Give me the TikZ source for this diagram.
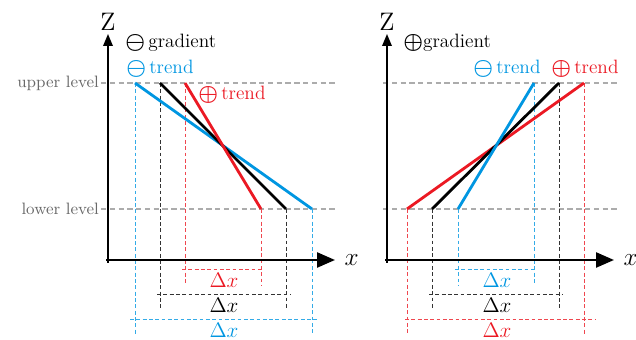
\documentclass[tikz,border=0pt]{standalone}
\usepackage{amsmath}
\usepackage{tikz}
\usetikzlibrary{arrows.meta}
\definecolor{trendblue}{RGB}{0,150,225}
\definecolor{trendred}{RGB}{235,25,35}
\definecolor{levelgray}{RGB}{105,105,105}
\newcommand{\negsign}{\raisebox{-0.5pt}{\scalebox{1.15}{$\boldsymbol{\ominus}$}}}
\newcommand{\possign}{\raisebox{-0.5pt}{\scalebox{1.15}{$\boldsymbol{\oplus}$}}}
\tikzset{
  axisline/.style={line width=1pt,-{Triangle[length=2.4mm,width=1.9mm]}},
  xaxisline/.style={line width=1.4pt,-{Triangle[length=3.6mm,width=3mm]}},
  slope/.style={line width=1.6pt},
  guide/.style={line width=0.5pt,dash pattern=on 2.2pt off 1.4pt},
  levelline/.style={line width=0.6pt,draw=levelgray!55,dash pattern=on 3pt off 2pt},
  lvl/.style={text=levelgray,anchor=east,inner sep=1pt,font=\fontsize{9.4}{11}\selectfont},
  sign/.style={anchor=west,inner sep=0pt},
  dx/.style={inner sep=1pt,font=\fontsize{12.5}{14}\selectfont},
  axlabel/.style={font=\fontsize{15}{17}\selectfont},
}
\begin{document}
\begin{tikzpicture}[x=0.02cm,y=-0.02cm,font=\fontsize{11}{13}\selectfont]
  \useasboundingbox (0,0) rectangle (636,340);
  % levels
  \node[lvl] (up) at (101,83) {upper level};
  \node[lvl] (low) at (101,209) {lower level};
  \draw[levelline] (up.east) -- (337,83) (383,83) -- (617,83);
  \draw[levelline] (low.east) -- (337,209) (383,209) -- (617,209);

  % left panel: negative gradient
  \coordinate (lb1) at (135,83);  \coordinate (lb2) at (312,209);
  \coordinate (lk1) at (160,83);  \coordinate (lk2) at (286,209);
  \coordinate (lr1) at (185,83);  \coordinate (lr2) at (261,209);
  \draw[guide,trendblue!80] (lb1) -- (135,335) (lb2) -- (312,335) (130,319) -- (317,319);
  \draw[guide,black!80] (lk1) -- (160,310) (lk2) -- (286,310) (157,294) -- (290,294);
  \draw[guide,trendred!80] (lr1) -- (185,285) (lr2) -- (261,285) (182,269) -- (264,269);
  \draw[slope,trendblue] (lb1) -- (lb2);
  \draw[slope,black] (lk1) -- (lk2);
  \draw[slope,trendred] (lr1) -- (lr2);
  \node[dx,text=trendred] (ldr) at (224,280) {$\Delta x$};
  \node[dx] (ldk) at (224,305) {$\Delta x$};
  \node[dx,text=trendblue] (ldb) at (224,330) {$\Delta x$};
  \draw[axisline] (108,263) -- (108,34) coordinate (lz);
  \draw[xaxisline] (106,260) -- (335,260) coordinate (lx);
  \node[axlabel,above=-1.5pt] at (lz) {$\mathrm{Z}$};
  \node[axlabel,right=2pt] at (lx) {$x$};
  \node[sign] (lgrad) at (125,43) {\negsign\,gradient};
  \node[sign,text=trendblue] (ltb) at (126,69) {\negsign\,trend};
  \node[sign,text=trendred] (ltr) at (198,95) {\possign\,trend};

  % right panel: positive gradient
  \coordinate (rr1) at (407,209); \coordinate (rr2) at (584,83);
  \coordinate (rk1) at (432,209); \coordinate (rk2) at (559,83);
  \coordinate (rb1) at (458,209); \coordinate (rb2) at (534,83);
  \draw[guide,trendred!80] (rr1) -- (407,335) (rr2) -- (584,335) (405,319) -- (595,319);
  \draw[guide,black!80] (rk1) -- (432,310) (rk2) -- (559,310) (429,294) -- (562,294);
  \draw[guide,trendblue!80] (rb1) -- (458,285) (rb2) -- (534,285) (455,269) -- (536,269);
  \draw[slope,trendred] (rr1) -- (rr2);
  \draw[slope,black] (rk1) -- (rk2);
  \draw[slope,trendblue] (rb1) -- (rb2);
  \node[dx,text=trendblue] (rdb) at (497,280) {$\Delta x$};
  \node[dx] (rdk) at (497,305) {$\Delta x$};
  \node[dx,text=trendred] (rdr) at (497,330) {$\Delta x$};
  \draw[axisline] (387,263) -- (387,34) coordinate (rz);
  \draw[xaxisline] (385,260) -- (614,260) coordinate (rx);
  \node[axlabel,above=-1.5pt] at (rz) {$\mathrm{Z}$};
  \node[axlabel,right=2pt] at (rx) {$x$};
  \node[sign] (rgrad) at (403,43) {\possign gradient};
  \node[sign,text=trendblue] (rtb) at (473,69) {\negsign\,trend};
  \node[sign,text=trendred] (rtr) at (551,69) {\possign\,trend};
\end{tikzpicture}
\end{document}
